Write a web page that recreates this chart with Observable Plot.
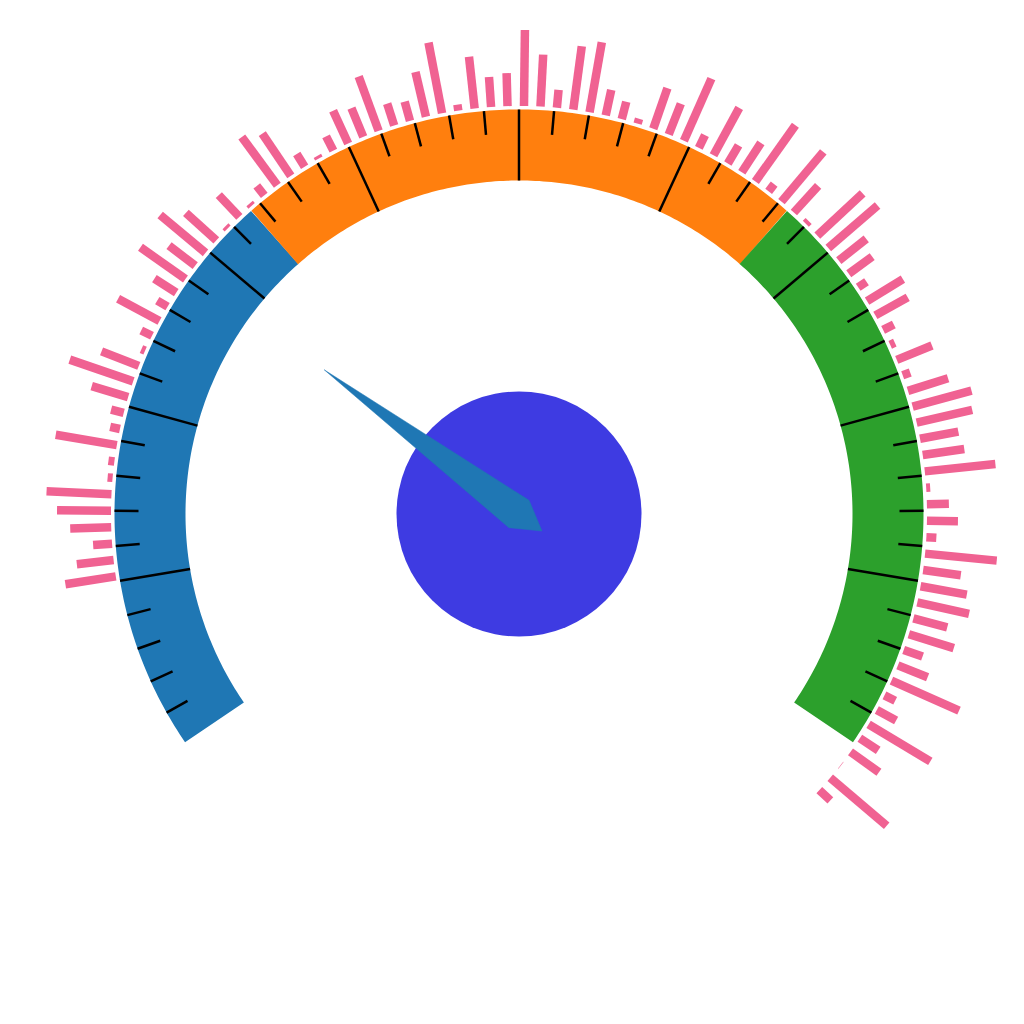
<!DOCTYPE html>
<html>
<head>
<meta charset="utf-8">
<script src="https://cdn.jsdelivr.net/npm/d3@7"></script>
<script src="https://cdn.jsdelivr.net/npm/@observablehq/plot@0.6"></script>
<style>
html, body { margin: 0; padding: 0; background: #ffffff; }
#chart svg { display: block; }
</style>
</head>
<body>
<div id="chart"></div>
<script>
// ---------------- data ----------------
const needleValue = 28.5;
const bandStops = [0, 100 / 3, 200 / 3, 100];
const bandColors = ["#1f77b4", "#ff7f0e", "#2ca02c"];
const majorTickValues = [10, 20, 30, 40, 50, 60, 70, 80, 90];
const minorTickValues = [2, 4, 6, 8, 12, 14, 16, 18, 22, 24, 26, 28, 32, 34, 36, 38,
  42, 44, 46, 48, 52, 54, 56, 58, 62, 64, 66, 68, 72, 74, 76, 78, 82, 84, 86, 88,
  92, 94, 96, 98];
const barLengths = [
  51, 37, 19, 41, 54, 65, 5, 6, 62, 10, 13, 38, 67, 40, 4, 12,
  47, 12, 26, 55, 33, 59, 41, 3, 30, 3, 12, 60, 51, 15, 3, 16,
  36, 31, 58, 23, 20, 46, 72, 6, 52, 30, 33, 76, 52, 18, 64, 71,
  26, 18, 5, 43, 33, 68, 14, 54, 21, 35, 69, 9, 65, 36, 4, 62,
  65, 35, 29, 10, 42, 37, 12, 5, 38, 8, 42, 61, 57, 39, 42, 71,
  4, 22, 31, 10, 72, 38, 47, 53, 35, 47, 20, 32, 74, 12, 22, 72,
  22, 35, 0.5, 74, 15
];

// ---------------- layout ----------------
const W = 1024, H = 1024, CX = 518.5, CY = 513.5;
const deg = Math.PI / 180;
const gaugeAngle = d3.scaleLinear().domain([0, 100]).range([-Math.PI / 2 - 0.6, Math.PI / 2 + 0.6]);
const barAngle = d3.scaleLinear().domain([0, barLengths.length - 1]).range([-98.8 * deg, 132.6 * deg]);
const rInner = 333.5, rOuter = 404.5, rMinor = 380.5, rBar = 408;
const px = (a, r) => r * Math.sin(a);
const py = (a, r) => r * Math.cos(a);

const marks = [];

// gauge bands (thick arcs)
bandColors.forEach((color, k) => {
  const v0 = bandStops[k], v1 = bandStops[k + 1];
  const n = 120;
  const pts = d3.range(n + 1).map(j => v0 + (v1 - v0) * j / n);
  const rMid = (rInner + rOuter) / 2;
  marks.push(Plot.line(pts, {
    x: v => px(gaugeAngle(v), rMid),
    y: v => py(gaugeAngle(v), rMid),
    stroke: color,
    strokeWidth: rOuter - rInner,
    strokeLinecap: "butt",
    strokeLinejoin: "round",
    curve: "linear"
  }));
});

// ticks
marks.push(Plot.link(majorTickValues, {
  x1: v => px(gaugeAngle(v), rInner), y1: v => py(gaugeAngle(v), rInner),
  x2: v => px(gaugeAngle(v), rOuter), y2: v => py(gaugeAngle(v), rOuter),
  stroke: "black", strokeWidth: 2.5, strokeLinecap: "butt"
}));
marks.push(Plot.link(minorTickValues, {
  x1: v => px(gaugeAngle(v), rMinor), y1: v => py(gaugeAngle(v), rMinor),
  x2: v => px(gaugeAngle(v), rOuter), y2: v => py(gaugeAngle(v), rOuter),
  stroke: "black", strokeWidth: 2.5, strokeLinecap: "butt"
}));

// radial bars
const barData = barLengths.map((v, i) => ({i, v}));
marks.push(Plot.link(barData, {
  x1: d => px(barAngle(d.i), rBar), y1: d => py(barAngle(d.i), rBar),
  x2: d => px(barAngle(d.i), rBar + d.v), y2: d => py(barAngle(d.i), rBar + d.v),
  stroke: "#f06292", strokeWidth: 8.5, strokeLinecap: "butt"
}));

// hub
marks.push(Plot.dot([{x: 0, y: 0}], {x: "x", y: "y", r: 122.5, fill: "#3e3be2", stroke: null}));

// needle
const a = gaugeAngle(needleValue);
const needle = [
  [a, 242], [a + Math.PI / 2, 17], [a + Math.PI, 28.6], [a - Math.PI / 2, 17], [a, 242]
];
marks.push(Plot.line(needle, {
  x: d => px(d[0], d[1]), y: d => py(d[0], d[1]),
  fill: "#1f77b4", stroke: "#1f77b4", strokeWidth: 0.5, strokeLinejoin: "miter", curve: "linear"
}));

const chart = Plot.plot({
  width: W, height: H,
  marginTop: 0, marginRight: 0, marginBottom: 0, marginLeft: 0,
  x: {domain: [-CX, W - CX], range: [0, W], axis: null},
  y: {domain: [-(H - CY), CY], range: [H, 0], axis: null},
  style: {background: "#ffffff"},
  marks
});
document.getElementById("chart").appendChild(chart);
</script>
</body>
</html>
